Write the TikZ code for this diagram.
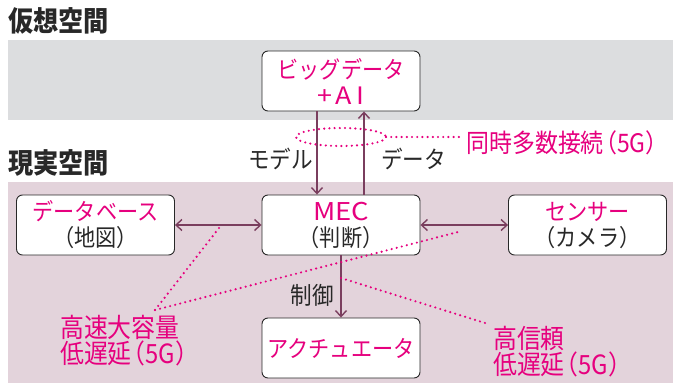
\documentclass[tikz,border=0pt]{standalone}
\usepackage{fontspec}
\setmainfont{Noto Sans CJK JP}[FakeStretch=0.9]
\newfontfamily\latinwide{Noto Sans CJK JP}[FakeStretch=1.12]
\usetikzlibrary{arrows.meta}
\definecolor{mag}{RGB}{230,0,126}
\definecolor{plum}{RGB}{122,62,94}
\definecolor{bandgray}{RGB}{220,221,223}
\definecolor{bandpink}{RGB}{227,211,219}
\definecolor{ink}{RGB}{40,40,40}
\newcommand{\fgparen}[1]{\kern-0.38em（#1）\kern-0.45em}
\tikzset{
  box/.style={draw=ink, line width=0.9pt, fill=white, rounded corners=6pt,
    minimum width=158pt, minimum height=60pt, inner sep=0pt, align=center,
    font=\fontsize{23.5pt}{26pt}\selectfont},
  arr/.style={draw=plum, line width=1.4pt, -{Straight Barb[length=6pt,width=11pt,line width=1.4pt]}},
  biarr/.style={draw=plum, line width=1.4pt, {Straight Barb[length=6pt,width=11pt,line width=1.4pt]}-{Straight Barb[length=6pt,width=11pt,line width=1.4pt]}},
  dots/.style={draw=mag, line width=2.4pt, line cap=round, dash pattern=on 0pt off 5.2pt},
  title/.style={font=\fontsize{28pt}{30pt}\selectfont\bfseries, text=ink, anchor=west, inner sep=0pt},
  lbl/.style={font=\fontsize{24pt}{26pt}\selectfont, text=ink, inner sep=0pt},
  plbl/.style={font=\fontsize{26.5pt}{24.5pt}\selectfont, text=mag, inner sep=0pt, align=left, anchor=west},
}
\begin{document}
\begin{tikzpicture}[x=1pt,y=-1pt]
\useasboundingbox (0,0) rectangle (673,383);
% bands
\fill[bandgray] (8,40) rectangle (673,120);
\fill[bandpink] (8,182) rectangle (673,383);
% titles
\node[title] (t1) at (8,21) {仮想空間};
\node[title] (t2) at (8,163) {現実空間};
% boxes
\node[box] (bd) at (341,81) {\textcolor{mag}{ビッグデータ}\\\textcolor{mag}{\latinwide\fontsize{24pt}{26pt}\selectfont +\hspace{3pt}A\hspace{5pt}I}};
\node[box] (mec) at (341,225) {\textcolor{mag}{\latinwide\fontsize{24.5pt}{26pt}\selectfont MEC}\\\textcolor{ink}{（判断）}};
\node[box] (db) at (95.5,225) {\textcolor{mag}{データベース}\\\textcolor{ink}{（地図）}};
\node[box] (sen) at (587.5,225) {\textcolor{mag}{センサー}\\\textcolor{ink}{（カメラ）}};
\node[box] (act) at (341,348) {\textcolor{mag}{アクチュエータ}};
% helper coordinates
\coordinate (mx) at (317,0);
\coordinate (dx) at (364,0);
% arrows
\draw[arr] (bd.south -| mx) -- (mec.north -| mx);
\draw[arr] (mec.north -| dx) -- (bd.south -| dx);
\draw[biarr] (db.east) -- (mec.west);
\draw[biarr] (mec.east) -- (sen.west);
\draw[arr] (mec.south) -- (act.north);
% labels
\node[lbl, anchor=east] (lm) at (313,159) {モデル};
\node[lbl, anchor=west] (ld) at (381,159) {データ};
\node[lbl, anchor=east] (lc) at (334,295) {制御};
% 5G labels
\node[plbl, font=\fontsize{25.5pt}{24.5pt}\selectfont] (l1) at (466,143) {同時多数接続\fgparen{5G}};
\node[plbl] (l2) at (60,340.5) {高速大容量\\低遅延\fgparen{5G}};
\node[plbl] (l3) at (493,351.5) {高信頼\\低遅延\fgparen{5G}};
% dotted
\coordinate (ec) at (341,137);
\draw[dots] (ec) ellipse [x radius=45, y radius=9];
\coordinate (e1) at (386,137);
\coordinate (e2) at (461,137);
\draw[dots] (e1) -- (e2);
\coordinate (p0) at (155,310);
\coordinate (p1) at (219,228);
\coordinate (p2) at (462,231);
\draw[dots] (p0) -- (p1);
\draw[dots] (p0) -- (p2);
\coordinate (q0) at (341,278);
\coordinate (q1) at (485,323);
\draw[dots] (q0) -- (q1);
\end{tikzpicture}
\end{document}
